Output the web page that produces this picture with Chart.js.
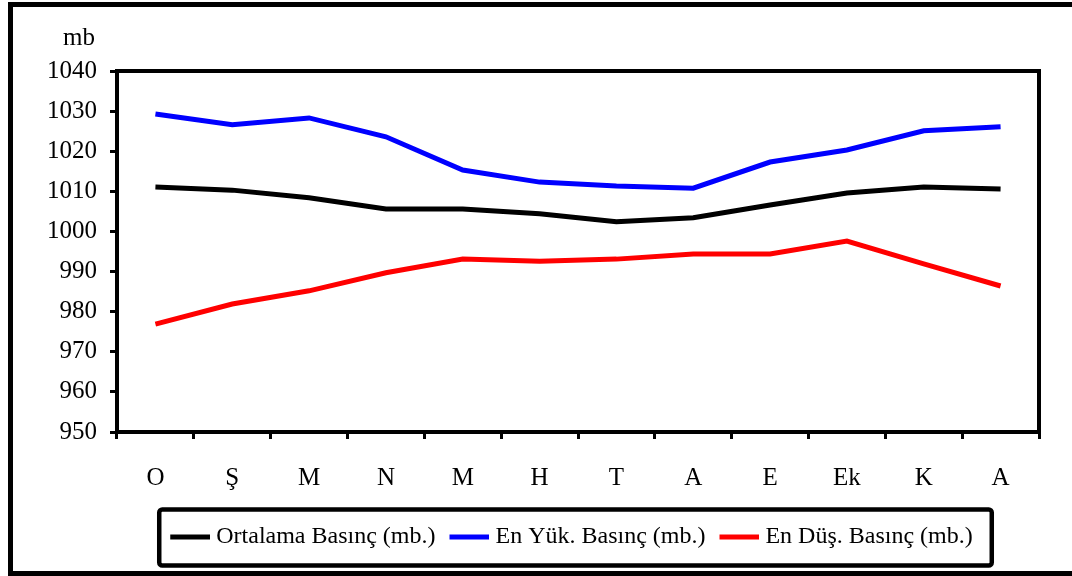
<!DOCTYPE html>
<html>
<head>
<meta charset="utf-8">
<script src="https://cdn.jsdelivr.net/npm/chart.js@4/dist/chart.umd.min.js"></script>
<style>
html,body{margin:0;padding:0;background:#fff;}
#wrap{width:1072px;height:576px;position:relative;}
</style>
</head>
<body>
<div id="wrap"><canvas id="c" width="1072" height="576"></canvas></div>
<script>
const categories = ['O', 'Ş', 'M', 'N', 'M', 'H', 'T', 'A', 'E', 'Ek', 'K', 'A'];
const ortalama = [1011.1, 1010.3, 1008.4, 1005.6, 1005.6, 1004.4, 1002.4, 1003.4, 1006.6, 1009.6, 1011.1, 1010.6];
const enYuksek = [1029.3, 1026.6, 1028.3, 1023.6, 1015.3, 1012.3, 1011.3, 1010.8, 1017.3, 1020.3, 1025.1, 1026.1];
const enDusuk = [976.9, 981.9, 985.2, 989.7, 993.1, 992.6, 993.1, 994.4, 994.4, 997.6, 991.9, 986.4];
const seriesNames = ['Ortalama Basınç (mb.)', 'En Yük. Basınç (mb.)', 'En Düş. Basınç (mb.)'];
const yMin = 950, yMax = 1040, yStep = 10;
const unitLabel = 'mb';

const FONT = "'Liberation Serif', 'Times New Roman', serif";

// widest y tick label (used to right-align mirrored labels left of the axis)
const measureCtx = document.createElement('canvas').getContext('2d');
measureCtx.font = "25px " + FONT;
const widestY = measureCtx.measureText(String(yMax)).width;

function legendSwatch(color) {
  const cv = document.createElement('canvas');
  cv.width = 46; cv.height = 6;
  const g = cv.getContext('2d');
  g.fillStyle = color;
  g.fillRect(6, 0.5, 40, 5);
  return cv;
}

const framePlugin = {
  id: 'framePlugin',
  afterDraw(chart) {
    const ctx = chart.ctx;
    const a = chart.chartArea;
    ctx.save();
    ctx.strokeStyle = '#000';
    ctx.lineWidth = 4;
    ctx.strokeRect(a.left, a.top, a.right - a.left, a.bottom - a.top);
    ctx.lineWidth = 5;
    ctx.strokeRect(10.5, 4.5, 1085, 569);
    ctx.fillStyle = '#000';
    ctx.font = "25px " + FONT;
    ctx.textAlign = 'center';
    ctx.textBaseline = 'alphabetic';
    ctx.fillText(unitLabel, 79, 45);
    const lg = chart.legend;
    if (lg && lg.legendHitBoxes && lg.legendHitBoxes.length) {
      const hb = lg.legendHitBoxes;
      const first = hb[0], last = hb[hb.length - 1];
      const cy = first.top + first.height / 2;
      const x0 = first.left - 11, x1 = last.left + last.width + 19;
      const y0 = cy - 27.5, y1 = cy + 28.5;
      ctx.lineWidth = 4.5;
      ctx.beginPath();
      if (ctx.roundRect) ctx.roundRect(x0, y0, x1 - x0, y1 - y0, 3);
      else ctx.rect(x0, y0, x1 - x0, y1 - y0);
      ctx.stroke();
    }
    ctx.restore();
  }
};

const colors = ['#000000', '#0000ff', '#ff0000'];
const seriesData = [ortalama, enYuksek, enDusuk];

new Chart(document.getElementById('c'), {
  type: 'line',
  data: {
    labels: categories,
    datasets: seriesData.map((d, i) => ({
      label: seriesNames[i],
      data: d,
      borderColor: colors[i],
      backgroundColor: colors[i],
      borderWidth: 5,
      pointRadius: 0,
      pointHoverRadius: 0,
      pointStyle: legendSwatch(colors[i]),
      tension: 0,
      fill: false
    }))
  },
  options: {
    responsive: false,
    animation: false,
    events: [],
    layout: { padding: { left: 104, right: 33, top: 71, bottom: 17 } },
    plugins: {
      tooltip: { enabled: false },
      title: { display: false },
      legend: {
        display: true,
        position: 'bottom',
        labels: {
          usePointStyle: true,
          pointStyleWidth: 34,
          padding: 14,
          color: '#000',
          font: { family: FONT, size: 24 }
        }
      }
    },
    scales: {
      x: {
        type: 'category',
        offset: true,
        afterFit(scale) { scale.height = 79; },
        grid: {
          display: true,
          offset: true,
          drawOnChartArea: false,
          drawTicks: true,
          tickLength: 7,
          tickColor: '#000',
          tickWidth: 3
        },
        border: { display: true, color: '#000', width: 4 },
        ticks: {
          color: '#000',
          font: { family: FONT, size: 25 },
          padding: 24,
          maxRotation: 0,
          autoSkip: false
        }
      },
      y: {
        min: yMin,
        max: yMax,
        afterFit(scale) { scale.width = 13; },
        grid: {
          display: true,
          drawOnChartArea: false,
          drawTicks: true,
          tickLength: 7,
          tickColor: '#000',
          tickWidth: 3
        },
        border: { display: true, color: '#000', width: 4 },
        ticks: {
          stepSize: yStep,
          color: '#000',
          font: { family: FONT, size: 25 },
          mirror: true,
          crossAlign: 'far',
          padding: -20 - widestY,
          callback: (value) => String(value)
        }
      }
    }
  },
  plugins: [framePlugin]
});
</script>
</body>
</html>
